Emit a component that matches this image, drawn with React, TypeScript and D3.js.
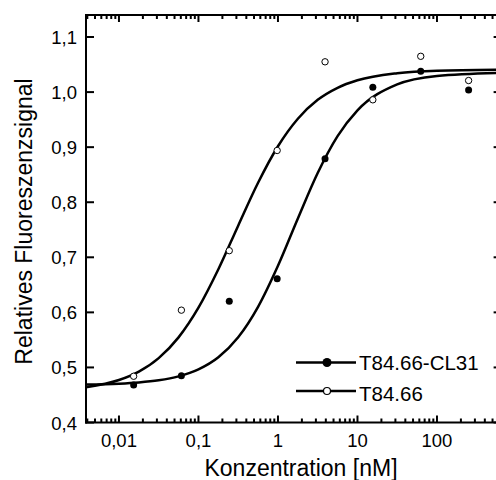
import React from 'react'
import * as d3 from 'd3'

// measured concentrations (4-fold dilution series, nM)
const concentrations = [0.0153, 0.061, 0.244, 0.977, 3.91, 15.6, 62.5, 250]
const cl31Values = [0.468, 0.485, 0.62, 0.661, 0.879, 1.009, 1.038, 1.004]
const t8466Values = [0.484, 0.604, 0.712, 0.894, 1.055, 0.986, 1.065, 1.021]

// fitted curves at evenly spaced log positions
const fitX = [0.00385, 0.01, 0.0178, 0.0316, 0.0562, 0.1, 0.178, 0.316, 0.562, 1, 1.78, 3.16, 5.62, 10, 31.6, 100, 650]
const cl31Fit = [0.469, 0.4705, 0.4727, 0.4766, 0.4837, 0.4964, 0.5184, 0.5547, 0.61, 0.6845, 0.7705, 0.853, 0.92, 0.9667, 1.0139, 1.0293, 1.0351]
const t8466Fit = [0.4642, 0.4771, 0.4924, 0.5169, 0.5546, 0.6085, 0.6782, 0.7574, 0.8353, 0.9016, 0.9516, 0.9859, 1.0078, 1.0214, 1.0343, 1.0388, 1.0406]

const xTickValues = [0.01, 0.1, 1, 10, 100]
const xTickLabels = ['0,01', '0,1', '1', '10', '100']
const yTickValues = [0.4, 0.5, 0.6, 0.7, 0.8, 0.9, 1.0, 1.1]
const yTickLabels = ['0,4', '0,5', '0,6', '0,7', '0,8', '0,9', '1,0', '1,1']
const seriesNames = ['T84.66-CL31', 'T84.66']

const W = 496
const H = 480
const left = 86
const right = 501.6
const top = 15
const bottom = 422.5
const font = '"Liberation Sans", Arial, sans-serif'

export default function App() {
  const x = d3.scaleLog().domain([0.00385, 650]).range([left, right])
  const y = d3.scaleLinear().domain([0.4, 1.14]).range([bottom, top])

  const line = d3.line<[number, number]>()
    .x(d => x(d[0]))
    .y(d => y(d[1]))
    .curve(d3.curveMonotoneX)

  const cl31Pts = fitX.map((v, i) => [v, cl31Fit[i]] as [number, number])
  const t8466Pts = fitX.map((v, i) => [v, t8466Fit[i]] as [number, number])

  // minor ticks 2..9 x 10^k inside the domain
  const minor: number[] = []
  for (let k = -3; k <= 2; k++) {
    for (let m = 2; m <= 9; m++) {
      const v = m * Math.pow(10, k)
      if (v > 0.00385 && v < 650) minor.push(v)
    }
  }

  return (
    <svg width={W} height={H} style={{ position: 'absolute', left: 0, top: 0, background: '#fff' }}
      fontFamily={font}>
      <rect x={0} y={0} width={W} height={H} fill="#fff" />

      {/* fitted curves */}
      <path d={line(t8466Pts) || ''} fill="none" stroke="#000" strokeWidth={2.5} />
      <path d={line(cl31Pts) || ''} fill="none" stroke="#000" strokeWidth={2.5} />

      {/* data points */}
      {concentrations.map((c, i) => (
        <circle key={'o' + i} cx={x(c)} cy={y(t8466Values[i])} r={3.2} fill="#fff" stroke="#000" strokeWidth={1} />
      ))}
      {concentrations.map((c, i) => (
        <circle key={'f' + i} cx={x(c)} cy={y(cl31Values[i])} r={3.5} fill="#000" />
      ))}

      {/* frame */}
      <g stroke="#000" strokeWidth={2}>
        <line x1={left} x2={left} y1={top - 1} y2={bottom + 1} />
        <line x1={right} x2={right} y1={top - 1} y2={bottom + 1} />
        <line x1={left - 1} x2={right + 1} y1={top} y2={top} />
        <line x1={left - 1} x2={right + 1} y1={bottom} y2={bottom} />
        {xTickValues.map(v => (
          <g key={'xt' + v}>
            <line x1={x(v)} x2={x(v)} y1={bottom} y2={bottom - 7} />
            <line x1={x(v)} x2={x(v)} y1={top} y2={top + 7} />
          </g>
        ))}
        {minor.map(v => (
          <g key={'xm' + v}>
            <line x1={x(v)} x2={x(v)} y1={bottom} y2={bottom - 4} />
            <line x1={x(v)} x2={x(v)} y1={top} y2={top + 4} />
          </g>
        ))}
        {yTickValues.map(v => (
          <g key={'yt' + v}>
            <line x1={left} x2={left + 8} y1={y(v)} y2={y(v)} />
            <line x1={right} x2={right - 8} y1={y(v)} y2={y(v)} />
          </g>
        ))}
      </g>

      {/* tick labels */}
      {xTickValues.map((v, i) => (
        <text key={'xl' + v} x={x(v)} y={447} textAnchor="middle" fontSize={18.5} fill="#000">
          {xTickLabels[i]}
        </text>
      ))}
      {yTickValues.map((v, i) => (
        <text key={'yl' + v} x={77} y={y(v) + 7} textAnchor="end" fontSize={18.5} fill="#000">
          {yTickLabels[i]}
        </text>
      ))}

      {/* axis titles */}
      <text x={301} y={476} textAnchor="middle" fontSize={23} fill="#000">Konzentration [nM]</text>
      <text transform="translate(32,221.5) rotate(-90)" textAnchor="middle" fontSize={23} fill="#000">
        Relatives Fluoreszenzsignal
      </text>

      {/* legend */}
      <g>
        <line x1={296} x2={356} y1={362.5} y2={362.5} stroke="#000" strokeWidth={2.5} />
        <circle cx={327} cy={362.5} r={4.5} fill="#000" />
        <text x={359} y={369.5} fontSize={20.5} fill="#000">{seriesNames[0]}</text>
        <line x1={296} x2={356} y1={391} y2={391} stroke="#000" strokeWidth={2.5} />
        <circle cx={327} cy={391} r={3.5} fill="#fff" stroke="#000" strokeWidth={1.2} />
        <text x={359} y={401} fontSize={20.5} fill="#000">{seriesNames[1]}</text>
      </g>
    </svg>
  )
}
